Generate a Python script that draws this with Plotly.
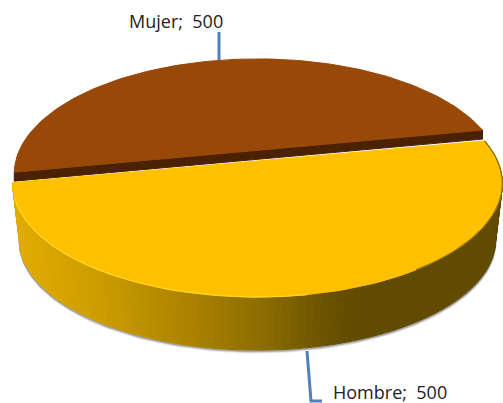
import numpy as np
import plotly.graph_objects as go

categories = ['Mujer', 'Hombre']
values = [500, 500]
top_colors = ['#984807', '#FFC000']
cut_color = '#4A2103'
# side wall colour, read left to right along the front of the pie
side_stops_x = [15, 100, 200, 260, 330, 360, 500]
side_stops_rgb = [(226, 172, 0), (204, 156, 0), (168, 128, 0), (142, 110, 0), (106, 82, 0), (97, 75, 0), (97, 75, 0)]
leader_color = '#4F81BD'

# projection of the tilted disc, in page pixels
CX, CY = 257.5, 161.0
RX, RY, PERSP = 240.0, 109.0, 0.198
START_DEG = 11.0
# the brown slice sits further back and reads slightly larger
BROWN_DV, BROWN_SU, BROWN_SV = 0.10, 1.012, 1.05
CUT_DEPTH = 9
DEPTH, SHRINK = 57.0, 0.972


def project(u, v):
    w = 1 + PERSP * v
    return CX + RX * u / w, CY - RY * v / w


def side_color(x):
    rgb = [np.interp(x, side_stops_x, [c[i] for c in side_stops_rgb]) for i in range(3)]
    return 'rgb(%d,%d,%d)' % tuple(rgb)


def lower(px, py):
    # bottom rim of the wall: a bit narrower and lower than the top rim
    return CX + SHRINK * (px - CX), CY + SHRINK * (py - CY) + DEPTH


fractions = np.array(values) / sum(values)
angles = np.radians(START_DEG) + 2 * np.pi * np.concatenate([[0], np.cumsum(fractions)])

fig = go.Figure()


def add_poly(xs, ys, fill, line=None, width=1):
    fig.add_trace(go.Scatter(x=xs, y=ys, mode='lines', fill='toself', fillcolor=fill,
                             line=dict(color=line or fill, width=width), hoverinfo='skip'))


# front arc of the second slice
t0, t1 = angles[1], angles[2]
front = np.linspace(t0, t1, 121)
fx, fy = project(np.cos(front), np.sin(front))
bx, by = lower(fx, fy)

# soft shadow under the wall
for grow, alpha in [(2.5, 0.12), (1.5, 0.22), (0.7, 0.35)]:
    fig.add_trace(go.Scatter(x=bx[:110], y=by[:110] + grow, mode='lines', hoverinfo='skip',
                             line=dict(color='rgba(70,70,70,%.2f)' % alpha, width=2)))

# wall of the pie, cut in short pieces for the gradient
for i in range(len(front) - 1):
    xs = [fx[i], fx[i + 1], bx[i + 1], bx[i], fx[i]]
    ys = [fy[i], fy[i + 1], by[i + 1], by[i], fy[i]]
    add_poly(xs, ys, side_color((fx[i] + fx[i + 1]) / 2))

# first slice, pushed back, with the dark cut face under it
arc = np.linspace(angles[0], angles[1], 121)
ax, ay = project(BROWN_SU * np.cos(arc), BROWN_DV + BROWN_SV * np.sin(arc))
add_poly([ax[0], ax[-1], ax[-1], ax[0], ax[0]],
         [ay[0] + CUT_DEPTH, ay[-1] + CUT_DEPTH, ay[-1], ay[0], ay[0] + CUT_DEPTH], cut_color)
add_poly(np.r_[ax, ax[0]], np.r_[ay, ay[0]], top_colors[0])

# second slice, top surface
add_poly(np.r_[fx, fx[0]], np.r_[fy, fy[0]], top_colors[1])

# bevel on the rim: light on the left, dark on the right
n = len(front)
fig.add_trace(go.Scatter(x=fx[5:n // 2], y=fy[5:n // 2], mode='lines', hoverinfo='skip',
                         line=dict(color='#FFD21F', width=1.5)))
fig.add_trace(go.Scatter(x=fx[n // 2 + 15:], y=fy[n // 2 + 15:], mode='lines', hoverinfo='skip',
                         line=dict(color='rgba(120,92,0,0.8)', width=1.2)))

# leader lines
for xs, ys in [([219, 219], [32, 60]), ([307, 311, 322], [351, 401, 401])]:
    fig.add_trace(go.Scatter(x=xs, y=ys, mode='lines', hoverinfo='skip',
                             line=dict(color=leader_color, width=3)))

label_font = dict(family='Open Sans, sans-serif', size=18, color='#222222')
for name, val, x, y in zip(categories, values, [129, 333], [21, 392]):
    fig.add_annotation(x=x, y=y, text='%s;\u00a0\u00a0%d' % (name, val), showarrow=False,
                       xanchor='left', yanchor='middle', font=label_font, xshift=-2)

fig.update_layout(width=503, height=403, margin=dict(l=0, r=0, t=0, b=0), showlegend=False,
                  paper_bgcolor='white', plot_bgcolor='white')
fig.update_xaxes(visible=False, range=[0, 503])
fig.update_yaxes(visible=False, range=[403, 0])

fig.write_html("out.html", config=dict(displayModeBar=False),
               post_script="document.body.style.margin='0';document.body.style.overflow='hidden';")
